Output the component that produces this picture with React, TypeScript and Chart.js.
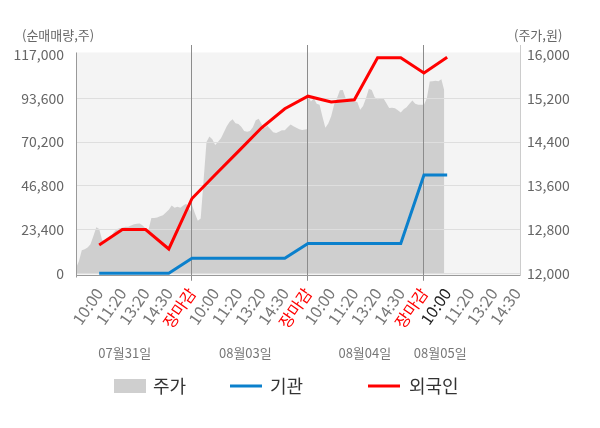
import { useEffect, useRef } from "react";
import { Chart, registerables } from "chart.js";

Chart.register(...registerables);

// ---- data ----
const timeLabels = [
  "10:00", "11:20", "13:20", "14:30", "장마감",
  "10:00", "11:20", "13:20", "14:30", "장마감",
  "10:00", "11:20", "13:20", "14:30", "장마감",
  "10:00", "11:20", "13:20", "14:30",
];
const currentSlot = 16; // "10:00" of 08월05일 (highlighted)
const dayLabels = ["07월31일", "08월03일", "08월04일", "08월05일"];
const dayLabelSlots = [2.1, 7.3, 12.45, 15.7];

const institution = [0, 0, 0, 0, 8000, 8000, 8000, 8000, 8000, 16000, 16000, 16000, 16000, 16000, 52500, 52500];
const foreign = [15100, 23400, 23400, 13000, 40000, 52700, 65200, 77800, 88000, 94700, 91600, 92800, 115200, 115200, 107100, 115500];

const price0731 = [12095, 12220, 12420, 12440, 12470, 12530, 12680, 12840, 12810, 12610, 12580, 12590, 12660, 12750, 12805, 12825, 12835, 12850, 12850, 12875, 12895, 12905, 12910, 12875, 12820, 12800, 13010, 13010, 13020, 13045, 13060, 13110, 13160, 13240, 13200, 13215, 13200, 13240, 13270, 13180, 13100];
const price0803 = [13250, 13100, 12960, 13000, 13700, 14400, 14500, 14450, 14344, 14404, 14470, 14580, 14690, 14769, 14815, 14745, 14730, 14678, 14600, 14587, 14600, 14670, 14800, 14825, 14730, 14650, 14700, 14640, 14580, 14565, 14590, 14617, 14617, 14670, 14720, 14690, 14660, 14635, 14620, 14630, 14640];
const price0804 = [15260, 15140, 15200, 15100, 15080, 14860, 14660, 14740, 14870, 15080, 15200, 15345, 15350, 15200, 15200, 15180, 15140, 15130, 14990, 15060, 15200, 15375, 15350, 15220, 15180, 15190, 15200, 15115, 15020, 15025, 15018, 14980, 14940, 15000, 15035, 15100, 15160, 15100, 15080, 15080, 15080];
const price0805 = [15080, 15200, 15505, 15510, 15520, 15510, 15548, 15340];

const leftTicks = [0, 23400, 46800, 70200, 93600, 117000];
const rightTicks = [12000, 12800, 13600, 14400, 15200, 16000];

const seriesNames = ["주가", "기관", "외국인"];
const seriesColors = ["#cfcfcf", "#0b80cc", "#ff0000"];

const FONT = "'Noto Sans CJK KR', 'Noto Sans', sans-serif";

export default function App() {
  const ref = useRef<HTMLCanvasElement>(null);

  useEffect(() => {
    document.body.style.margin = "0";
    const canvas = ref.current!;
    Chart.defaults.font.family = FONT;

    const slotsPerDay = 5;
    const priceDays = [price0731, price0803, price0804, price0805];
    const step = slotsPerDay / (price0731.length - 1);
    const pricePoints = priceDays.flatMap((arr, d) =>
      arr.map((v, i) => ({ x: d * slotsPerDay + i * step, y: v }))
    );

    const decor = {
      id: "decor",
      beforeDraw(chart: any) {
        const { ctx, chartArea } = chart;
        const top = chart.scales.yL.getPixelForValue(117000) - 2;
        ctx.save();
        ctx.fillStyle = "#f4f4f4";
        ctx.fillRect(chartArea.left, top, chartArea.right - chartArea.left, chartArea.bottom - top);
        ctx.restore();
      },
      afterDatasetDraw(chart: any, args: any) {
        if (args.index === 0) {
          chart.scales.yL.drawGrid(chart.chartArea);
          chart.scales.x.drawGrid(chart.chartArea);
        }
      },
      afterDraw(chart: any) {
        const { ctx, chartArea } = chart;
        const top = chart.scales.yL.getPixelForValue(117000) - 2;
        ctx.save();
        // left axis line
        ctx.strokeStyle = "#999";
        ctx.lineWidth = 1;
        ctx.beginPath();
        ctx.moveTo(Math.round(chartArea.left) + 0.5, top);
        ctx.lineTo(Math.round(chartArea.left) + 0.5, chartArea.bottom + 2);
        ctx.stroke();

        // axis titles
        ctx.fillStyle = "#666";
        ctx.font = `13px ${FONT}`;
        ctx.textBaseline = "middle";
        ctx.textAlign = "left";
        ctx.fillText("(순매매량,주)", 22, 35);
        ctx.fillText("(주가,원)", 514, 35);

        // day labels
        ctx.fillStyle = "#777";
        ctx.textAlign = "center";
        dayLabels.forEach((t, i) => {
          ctx.fillText(t, chart.scales.x.getPixelForValue(dayLabelSlots[i]), 353);
        });

        // legend
        const ly = 386;
        const markerX = [114, 230, 368];
        const textX = [153, 270, 409];
        ctx.font = `18px ${FONT}`;
        ctx.textAlign = "left";
        seriesNames.forEach((name, i) => {
          if (i === 0) {
            ctx.fillStyle = seriesColors[0];
            ctx.fillRect(markerX[i], ly - 7, 32, 14);
          } else {
            ctx.strokeStyle = seriesColors[i];
            ctx.lineWidth = 3;
            ctx.beginPath();
            ctx.moveTo(markerX[i], ly);
            ctx.lineTo(markerX[i] + 32, ly);
            ctx.stroke();
          }
          ctx.fillStyle = "#333";
          ctx.fillText(name, textX[i], ly);
        });
        ctx.restore();
      },
    };

    const chart = new Chart(canvas, {
      type: "line",
      data: {
        datasets: [
          {
            label: seriesNames[0],
            data: pricePoints,
            yAxisID: "yR",
            borderWidth: 0,
            borderColor: "rgba(0,0,0,0)",
            backgroundColor: seriesColors[0],
            pointRadius: 0,
            fill: { value: 12000 },
            order: 3,
          },
          {
            label: seriesNames[1],
            data: institution.map((v, i) => ({ x: i + 1, y: v })),
            yAxisID: "yL",
            borderColor: seriesColors[1],
            borderWidth: 3,
            pointRadius: 0,
            fill: false,
            order: 2,
          },
          {
            label: seriesNames[2],
            data: foreign.map((v, i) => ({ x: i + 1, y: v })),
            yAxisID: "yL",
            borderColor: seriesColors[2],
            borderWidth: 3,
            pointRadius: 0,
            fill: false,
            order: 1,
          },
        ] as any,
      },
      options: {
        animation: false,
        responsive: false,
        events: [],
        layout: { padding: { top: 45, left: 0, right: 0, bottom: 0 } },
        plugins: { legend: { display: false }, tooltip: { enabled: false } },
        scales: {
          x: {
            type: "linear",
            min: 0,
            max: 19.14,
            afterBuildTicks: (s: any) => {
              s.ticks = timeLabels.map((_, i) => ({ value: i + 1 }));
            },
            afterFit: (s: any) => {
              s.height = 428 - 275.5;
            },
            ticks: {
              autoSkip: false,
              minRotation: 55,
              maxRotation: 55,
              padding: 4,
              font: { size: 16 },
              color: (c: any) => {
                const v = Math.round(c.tick?.value ?? 0);
                if (timeLabels[v - 1] === "장마감") return "#ff0000";
                if (v === currentSlot) return "#222";
                return "#777";
              },
              callback: (v: any) => timeLabels[Math.round(Number(v)) - 1] ?? "",
            },
            grid: {
              color: (c: any) => {
                const v = Math.round(c.tick?.value ?? 0);
                return timeLabels[v - 1] === "장마감" ? "#8c8c8c" : "rgba(0,0,0,0)";
              },
              tickLength: 5,
              lineWidth: 1,
            },
            border: { display: true, color: "#999" },
          },
          yL: {
            type: "linear",
            position: "left",
            min: -1176,
            max: 122080,
            afterBuildTicks: (s: any) => {
              s.ticks = leftTicks.map((v) => ({ value: v }));
            },
            afterFit: (s: any) => {
              s.width = 76;
            },
            ticks: {
              padding: 12,
              color: "#666",
              font: { size: 14 },
              callback: (v: any) => Number(v).toLocaleString("en-US"),
            },
            grid: {
              color: (c: any) => (c.tick && c.tick.value === 117000 ? "rgba(0,0,0,0)" : "#dedede"),
              drawTicks: false,
            },
            border: { display: false },
          },
          yR: {
            type: "linear",
            position: "right",
            min: 11960,
            max: 16174,
            afterBuildTicks: (s: any) => {
              s.ticks = rightTicks.map((v) => ({ value: v }));
            },
            afterFit: (s: any) => {
              s.width = 80;
            },
            ticks: {
              padding: 7,
              color: "#666",
              font: { size: 14 },
              callback: (v: any) => Number(v).toLocaleString("en-US"),
            },
            grid: { drawOnChartArea: false, drawTicks: false },
            border: { display: true, color: "#cccccc" },
          },
        },
      } as any,
      plugins: [decor],
    });

    return () => chart.destroy();
  }, []);

  return (
    <div style={{ position: "absolute", left: 0, top: 0, width: 600, height: 428 }}>
      <canvas ref={ref} width={600} height={428} style={{ width: 600, height: 428, display: "block" }} />
    </div>
  );
}
